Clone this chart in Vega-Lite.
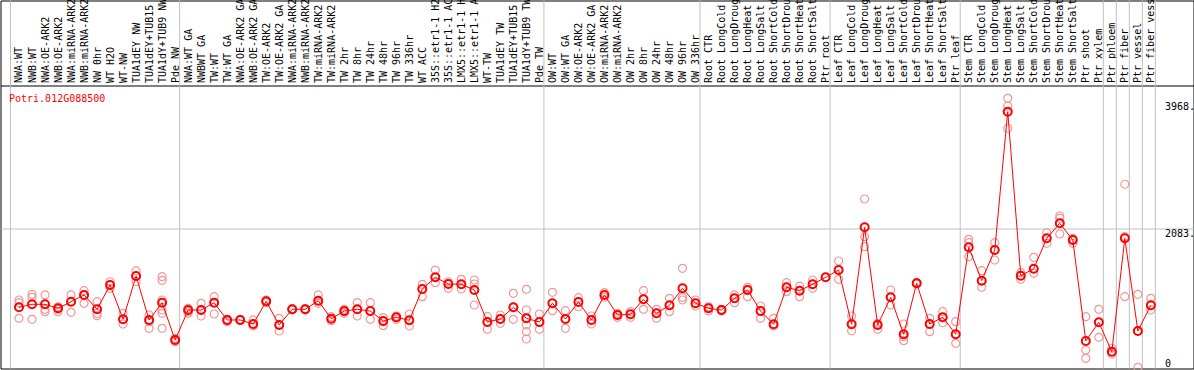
{
  "$schema": "https://vega.github.io/schema/vega-lite/v6.json",
  "width": 1193,
  "height": 368,
  "autosize": {"type": "none"},
  "padding": {"left": 0.5, "top": 0.5, "right": 0.5, "bottom": 1.5},
  "background": "white",
  "config": {"view": {"stroke": "black", "strokeWidth": 1}, "font": "DejaVu Sans Mono"},
  "title": {"text": "Potri.012G088500", "anchor": "start", "frame": "group", "offset": -113.5, "color": "red", "font": "DejaVu Sans Mono", "fontSize": 10, "fontWeight": "normal", "baseline": "alphabetic", "dx": 8.5},
  "datasets": {
    "bounds": [{"i": 0}, {"i": 13}, {"i": 41}, {"i": 53}, {"i": 63}, {"i": 73}, {"i": 84}, {"i": 85}, {"i": 86}, {"i": 87}, {"i": 88}],
    "ylabels": [{"v": 0}, {"v": 2083}, {"v": 3968}],
    "means": [
      {"i":1,"v":910},{"i":2,"v":955},{"i":3,"v":955},{"i":4,"v":896},{"i":5,"v":994},{"i":6,"v":1094},{"i":7,"v":881},{"i":8,"v":1242},{"i":9,"v":732},{"i":10,"v":1376},
      {"i":11,"v":722},{"i":12,"v":979},{"i":13,"v":424},{"i":14,"v":870},{"i":15,"v":870},{"i":16,"v":979},{"i":17,"v":722},{"i":18,"v":722},{"i":19,"v":662},{"i":20,"v":1000},
      {"i":21,"v":647},{"i":22,"v":881},{"i":23,"v":881},{"i":24,"v":1009},{"i":25,"v":741},{"i":26,"v":855},{"i":27,"v":881},{"i":28,"v":855},{"i":29,"v":707},{"i":30,"v":762},
      {"i":31,"v":717},{"i":32,"v":1183},{"i":33,"v":1357},{"i":34,"v":1257},{"i":35,"v":1253},{"i":36,"v":1168},{"i":37,"v":692},{"i":38,"v":736},{"i":39,"v":910},{"i":40,"v":747},
      {"i":41,"v":692},{"i":42,"v":970},{"i":43,"v":736},{"i":44,"v":989},{"i":45,"v":722},{"i":46,"v":1094},{"i":47,"v":796},{"i":48,"v":806},{"i":49,"v":1030},{"i":50,"v":821},
      {"i":51,"v":940},{"i":52,"v":1193},{"i":53,"v":970},{"i":54,"v":896},{"i":55,"v":870},{"i":56,"v":1044},{"i":57,"v":1168},{"i":58,"v":855},{"i":59,"v":658},{"i":60,"v":1208},
      {"i":61,"v":1158},{"i":62,"v":1253},{"i":63,"v":1357},{"i":64,"v":1465},{"i":65,"v":658},{"i":66,"v":2101},{"i":67,"v":647},{"i":68,"v":1059},{"i":69,"v":509},{"i":70,"v":1268},
      {"i":71,"v":662},{"i":72,"v":762},{"i":73,"v":509},{"i":74,"v":1803},{"i":75,"v":1306},{"i":76,"v":1763},{"i":77,"v":3821},{"i":78,"v":1381},{"i":79,"v":1485},{"i":80,"v":1937},
      {"i":81,"v":2160},{"i":82,"v":1912},{"i":83,"v":409},{"i":84,"v":687},{"i":85,"v":250},{"i":86,"v":1937},{"i":87,"v":558},{"i":88,"v":940}
    ],
    "reps": [
      {"i":1,"v":1019},{"i":1,"v":979},{"i":1,"v":747},
      {"i":2,"v":1104},{"i":2,"v":1059},{"i":2,"v":732},
      {"i":3,"v":1094},{"i":3,"v":881},{"i":3,"v":845},
      {"i":4,"v":919},{"i":4,"v":881},{"i":4,"v":845},
      {"i":5,"v":1094},{"i":5,"v":994},{"i":5,"v":836},
      {"i":6,"v":1158},{"i":6,"v":1094},{"i":6,"v":970},
      {"i":7,"v":994},{"i":7,"v":821},{"i":7,"v":786},
      {"i":8,"v":1291},{"i":8,"v":1242},{"i":8,"v":1193},
      {"i":9,"v":821},{"i":9,"v":732},{"i":9,"v":662},
      {"i":10,"v":1451},{"i":10,"v":1376},{"i":10,"v":1291},
      {"i":11,"v":796},{"i":11,"v":696},{"i":11,"v":598},
      {"i":12,"v":1366},{"i":12,"v":1312},{"i":12,"v":1019},{"i":12,"v":870},{"i":12,"v":821},{"i":12,"v":598},
      {"i":13,"v":449},{"i":13,"v":424},{"i":13,"v":399},
      {"i":14,"v":896},{"i":14,"v":845},{"i":14,"v":821},
      {"i":15,"v":970},{"i":15,"v":870},{"i":15,"v":781},
      {"i":16,"v":1068},{"i":16,"v":979},{"i":16,"v":811},
      {"i":17,"v":732},{"i":17,"v":711},{"i":17,"v":696},
      {"i":18,"v":730},{"i":18,"v":722},{"i":18,"v":715},
      {"i":19,"v":722},{"i":19,"v":662},{"i":19,"v":632},
      {"i":20,"v":1019},{"i":20,"v":1000},{"i":20,"v":979},
      {"i":21,"v":747},{"i":21,"v":647},{"i":21,"v":558},
      {"i":22,"v":890},{"i":22,"v":881},{"i":22,"v":870},
      {"i":23,"v":890},{"i":23,"v":881},{"i":23,"v":870},
      {"i":24,"v":1094},{"i":24,"v":1009},{"i":24,"v":970},
      {"i":25,"v":771},{"i":25,"v":741},{"i":25,"v":711},
      {"i":26,"v":881},{"i":26,"v":845},{"i":26,"v":821},
      {"i":27,"v":979},{"i":27,"v":881},{"i":27,"v":781},
      {"i":28,"v":979},{"i":28,"v":855},{"i":28,"v":732},
      {"i":29,"v":756},{"i":29,"v":696},{"i":29,"v":637},
      {"i":30,"v":781},{"i":30,"v":762},{"i":30,"v":732},
      {"i":31,"v":811},{"i":31,"v":717},{"i":31,"v":632},
      {"i":32,"v":1253},{"i":32,"v":1183},{"i":32,"v":1068},
      {"i":33,"v":1465},{"i":33,"v":1357},{"i":33,"v":1277},
      {"i":34,"v":1291},{"i":34,"v":1257},{"i":34,"v":1193},
      {"i":35,"v":1327},{"i":35,"v":1253},{"i":35,"v":1183},
      {"i":36,"v":1317},{"i":36,"v":1257},{"i":36,"v":945},
      {"i":37,"v":771},{"i":37,"v":692},{"i":37,"v":583},
      {"i":38,"v":796},{"i":38,"v":736},{"i":38,"v":672},
      {"i":39,"v":1119},{"i":39,"v":910},{"i":39,"v":732},
      {"i":40,"v":1178},{"i":40,"v":870},{"i":40,"v":747},{"i":40,"v":647},{"i":40,"v":548},{"i":40,"v":439},
      {"i":41,"v":811},{"i":41,"v":692},{"i":41,"v":583},
      {"i":42,"v":1134},{"i":42,"v":970},{"i":42,"v":860},
      {"i":43,"v":860},{"i":43,"v":736},{"i":43,"v":598},
      {"i":44,"v":1053},{"i":44,"v":989},{"i":44,"v":919},
      {"i":45,"v":781},{"i":45,"v":722},{"i":45,"v":662},
      {"i":46,"v":1128},{"i":46,"v":1094},{"i":46,"v":1059},
      {"i":47,"v":821},{"i":47,"v":796},{"i":47,"v":762},
      {"i":48,"v":845},{"i":48,"v":806},{"i":48,"v":762},
      {"i":49,"v":1158},{"i":49,"v":1030},{"i":49,"v":881},
      {"i":50,"v":881},{"i":50,"v":821},{"i":50,"v":747},
      {"i":51,"v":1044},{"i":51,"v":940},{"i":51,"v":845},
      {"i":52,"v":1491},{"i":52,"v":1059},{"i":52,"v":1019},
      {"i":53,"v":1019},{"i":53,"v":970},{"i":53,"v":930},
      {"i":54,"v":919},{"i":54,"v":896},{"i":54,"v":855},
      {"i":55,"v":881},{"i":55,"v":870},{"i":55,"v":855},
      {"i":56,"v":1094},{"i":56,"v":1044},{"i":56,"v":979},
      {"i":57,"v":1208},{"i":57,"v":1168},{"i":57,"v":1068},
      {"i":58,"v":930},{"i":58,"v":855},{"i":58,"v":747},
      {"i":59,"v":747},{"i":59,"v":658},{"i":59,"v":632},
      {"i":60,"v":1277},{"i":60,"v":1208},{"i":60,"v":1143},
      {"i":61,"v":1227},{"i":61,"v":1158},{"i":61,"v":1068},
      {"i":62,"v":1317},{"i":62,"v":1253},{"i":62,"v":1193},
      {"i":63,"v":1357},
      {"i":64,"v":1599},{"i":64,"v":1465},{"i":64,"v":1327},
      {"i":65,"v":781},{"i":65,"v":658},{"i":65,"v":562},
      {"i":66,"v":2522},{"i":66,"v":1961},{"i":66,"v":1812},
      {"i":67,"v":672},{"i":67,"v":647},{"i":67,"v":583},
      {"i":68,"v":1168},{"i":68,"v":1059},{"i":68,"v":945},
      {"i":69,"v":662},{"i":69,"v":473},{"i":69,"v":414},
      {"i":70,"v":1283},{"i":70,"v":1268},{"i":70,"v":1257},
      {"i":71,"v":747},{"i":71,"v":662},{"i":71,"v":548},
      {"i":72,"v":845},{"i":72,"v":762},{"i":72,"v":681},
      {"i":73,"v":696},{"i":73,"v":509},{"i":73,"v":375},
      {"i":74,"v":1922},{"i":74,"v":1872},{"i":74,"v":1663},
      {"i":75,"v":1455},{"i":75,"v":1306},{"i":75,"v":1208},
      {"i":76,"v":1872},{"i":76,"v":1763},{"i":76,"v":1614},
      {"i":77,"v":4020},{"i":77,"v":3905},{"i":77,"v":3574},
      {"i":78,"v":1425},{"i":78,"v":1381},{"i":78,"v":1327},
      {"i":79,"v":1654},{"i":79,"v":1485},{"i":79,"v":1416},
      {"i":80,"v":2020},{"i":80,"v":1937},{"i":80,"v":1863},
      {"i":81,"v":2269},{"i":81,"v":2235},{"i":81,"v":2001},
      {"i":82,"v":1937},{"i":82,"v":1912},{"i":82,"v":1863},
      {"i":83,"v":771},{"i":83,"v":275},{"i":83,"v":152},
      {"i":84,"v":881},{"i":84,"v":687},{"i":84,"v":464},
      {"i":85,"v":301},{"i":85,"v":250},{"i":85,"v":216},
      {"i":86,"v":2741},{"i":86,"v":1961},{"i":86,"v":1068},
      {"i":87,"v":1104},{"i":87,"v":558},{"i":87,"v":18},
      {"i":88,"v":1044},{"i":88,"v":940},{"i":88,"v":870}
    ]
  },
  "encoding": {
    "x": {
      "field": "i",
      "type": "quantitative",
      "scale": {"domain": [-0.422, 91.278], "nice": false, "zero": false},
      "axis": {
        "orient": "top",
        "offset": -85,
        "title": null,
        "domain": true,
        "domainColor": "black",
        "domainWidth": 1,
        "ticks": false,
        "grid": false,
        "labelAngle": -90,
        "labelAlign": "left",
        "labelBaseline": "middle",
        "labelPadding": 3,
        "labelFont": "DejaVu Sans Mono",
        "labelFontSize": 10,
        "labelColor": "black",
        "labelOverlap": false,
        "labelBound": false,
        "labelFlush": false,
        "labelLimit": 0,
        "values": [1,2,3,4,5,6,7,8,9,10,11,12,13,14,15,16,17,18,19,20,21,22,23,24,25,26,27,28,29,30,31,32,33,34,35,36,37,38,39,40,41,42,43,44,45,46,47,48,49,50,51,52,53,54,55,56,57,58,59,60,61,62,63,64,65,66,67,68,69,70,71,72,73,74,75,76,77,78,79,80,81,82,83,84,85,86,87,88],
        "labelExpr": "['NWA:WT','NWB:WT','NWA:OE-ARK2','NWB:OE-ARK2','NWA:miRNA-ARK2','NWB:miRNA-ARK2','NW 0hr','WT H2O','WT-NW','TUA1dEY NW','TUA1dEY+TUB15','TUA1dY+TUB9 NW','Pde NW','NWA:WT GA','NWBWT GA','TW:WT','TW:WT GA','NWA:OE-ARK2 GA','NWB:OE-ARK2 GA','TW:OE-ARK2','TW:OE-ARK2 GA','NWA:miRNA-ARK2','NWB:miRNA-ARK2','TW:miRNA-ARK2','TW:miRNA-ARK2','TW 2hr','TW 8hr','TW 24hr','TW 48hr','TW 96hr','TW 336hr','WT ACC','35S::etr1-1 H2','35S::etr1-1 AC','LMX5::etr1-1 H','LMX5::etr1-1 A','WT-TW','TUA1dEY TW','TUA1dEY+TUB15','TUA1dY+TUB9 TW','Pde TW','OW:WT','OW:WT GA','OW:OE-ARK2','OW:OE-ARK2 GA','OW:miRNA-ARK2','OW:miRNA-ARK2','OW 2hr','OW 8hr','OW 24hr','OW 48hr','OW 96hr','OW 336hr','Root CTR','Root LongCold','Root LongDroug','Root LongHeat','Root LongSalt','Root ShortCold','Root ShortDrou','Root ShortHeat','Root ShortSalt','Ptr root','Leaf CTR','Leaf LongCold','Leaf LongDroug','Leaf LongHeat','Leaf LongSalt','Leaf ShortCold','Leaf ShortDrou','Leaf ShortHeat','Leaf ShortSalt','Ptr leaf','Stem CTR','Stem LongCold','Stem LongDroug','Stem LongHeat','Stem LongSalt','Stem ShortCold','Stem ShortDrou','Stem ShortHeat','Stem ShortSalt','Ptr shoot','Ptr xylem','Ptr phloem','Ptr fiber','Ptr vessel','Ptr fiber vess'][datum.value - 1]"
      }
    }
  },
  "layer": [
    {
      "data": {"name": "bounds"},
      "mark": {"type": "rule", "color": "#c0c0c0", "strokeWidth": 1, "xOffset": 4.5},
      "encoding": {}
    },
    {
      "data": {"name": "reps"},
      "mark": {"type": "point", "shape": "circle", "filled": false, "stroke": "#f09898", "strokeWidth": 1.2, "size": 64, "opacity": 1},
      "encoding": {
        "y": {
          "field": "v",
          "type": "quantitative",
          "scale": {"domain": [0, 5475], "nice": false, "zero": true},
          "axis": {
            "orient": "right",
            "offset": -29,
            "title": null,
            "domain": false,
            "ticks": false,
            "values": [0, 2083, 3968],
            "labelExpr": "datum.value == 0 ? '0' : datum.value + '.'",
            "labelAlign": "left",
            "labelBaseline": {"condition": {"test": "datum.value == 0", "value": "bottom"}, "value": "top"},
            "labelPadding": 0,
            "labelFont": "DejaVu Sans Mono",
            "labelFontSize": 10,
            "labelColor": "black",
            "labelFlush": false,
            "labelBound": false,
            "labelOverlap": false,
            "grid": true,
            "gridColor": "#c0c0c0",
            "gridWidth": 1,
            "gridOpacity": {"condition": {"test": "datum.value == 2083", "value": 1}, "value": 0}
          }
        }
      }
    },
    {
      "data": {"name": "means"},
      "mark": {"type": "line", "color": "#ff0000", "strokeWidth": 1},
      "encoding": {
        "y": {"field": "v", "type": "quantitative"}
      }
    },
    {
      "data": {"name": "means"},
      "mark": {"type": "point", "shape": "circle", "filled": false, "stroke": "#ff0000", "strokeWidth": 2, "size": 64, "opacity": 1},
      "encoding": {
        "y": {"field": "v", "type": "quantitative"}
      }
    }
  ]
}
